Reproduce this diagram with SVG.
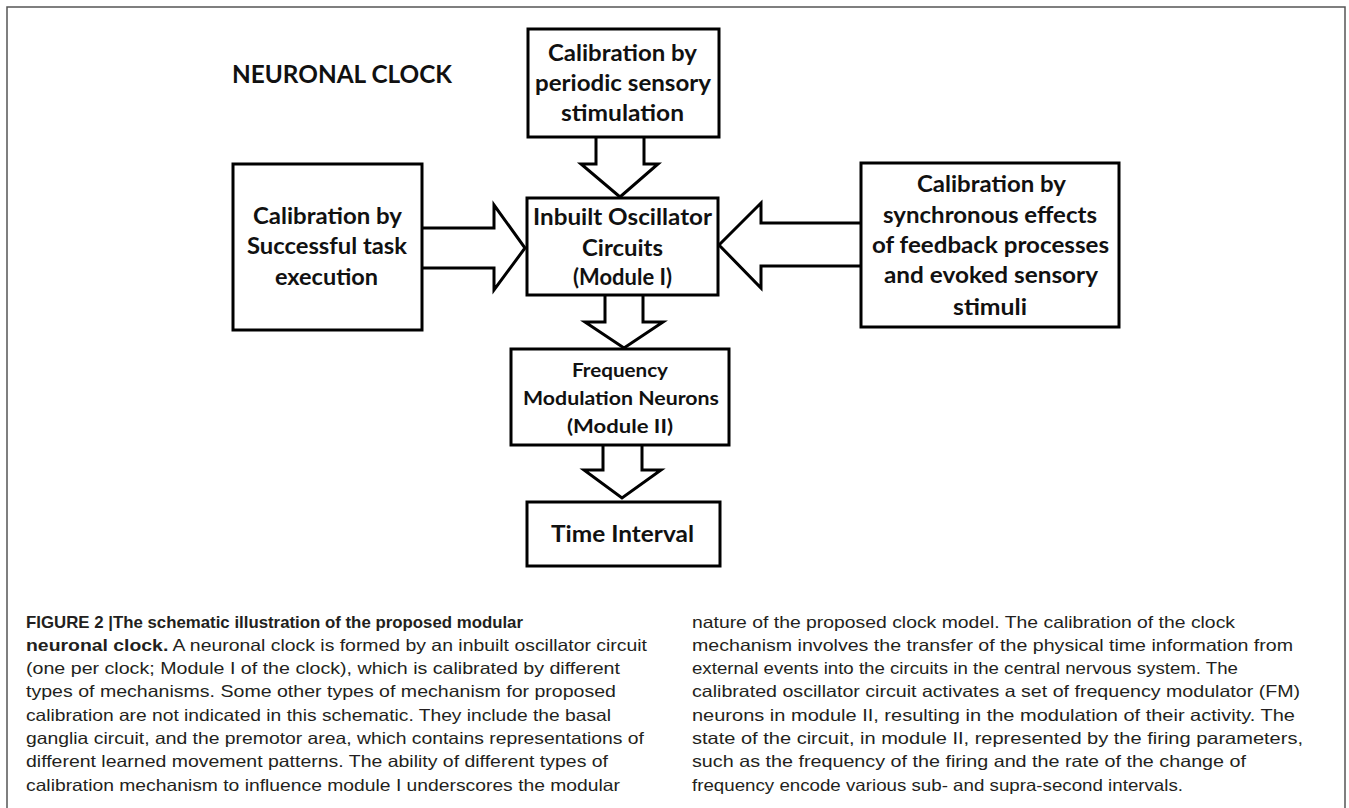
<svg xmlns="http://www.w3.org/2000/svg" width="1349" height="808" viewBox="0 0 1349 808">
<style>
.box{fill:#fff;stroke:#000;stroke-width:3;stroke-linejoin:miter}
.arr{fill:#fff;stroke:#000;stroke-width:3;stroke-linejoin:miter}
.lbl{font-family:Lato,"Open Sans","Liberation Sans",sans-serif;font-weight:700;fill:#111;text-anchor:middle}
.big{font-size:22px}
.mid{font-size:19px}
.cap{font-family:"Liberation Sans",Arial,sans-serif;font-size:16.5px;fill:#231f20}
.b{font-weight:700}
</style>
<rect x="0" y="0" width="1349" height="808" fill="#fff"/>
<rect x="7" y="7" width="1338" height="830" fill="none" stroke="#555" stroke-width="1.5"/>
<text x="232" y="83" font-family="Lato,'Open Sans','Liberation Sans',sans-serif" font-weight="700" font-size="25" fill="#111" textLength="220" lengthAdjust="spacingAndGlyphs">NEURONAL CLOCK</text>

<g id="connectors">
<path class="arr" d="M596,137 V164 H581 L620,197 L658,164 H644 V137"/>
<path class="arr" d="M422,228 H494 V205 L525,248 L494,290 V268 H422"/>
<path class="arr" d="M861,223 H761 V203 L719,245 L761,288 V266 H861"/>
<path class="arr" d="M605,295 V322 H585 L624,348 L663,322 H643 V295"/>
<path class="arr" d="M603,445 V470 H584 L622,498 L661,470 H642 V445"/>
</g>

<g id="node-periodic">
<rect class="box" x="528" y="29" width="191" height="108"/>
<text class="lbl big" x="622.5" y="61" textLength="149" lengthAdjust="spacingAndGlyphs">Calibration by</text>
<text class="lbl big" x="623" y="91" textLength="176" lengthAdjust="spacingAndGlyphs">periodic sensory</text>
<text class="lbl big" x="622.5" y="121" textLength="123" lengthAdjust="spacingAndGlyphs">stimulation</text>
</g>

<g id="node-oscillator">
<rect class="box" x="527" y="198" width="191" height="97"/>
<text class="lbl big" x="622.5" y="225" textLength="179" lengthAdjust="spacingAndGlyphs">Inbuilt Oscillator</text>
<text class="lbl big" x="622.5" y="256" textLength="81" lengthAdjust="spacingAndGlyphs">Circuits</text>
<text class="lbl big" x="622.5" y="285" textLength="99" lengthAdjust="spacingAndGlyphs">(Module I)</text>
</g>

<g id="node-task">
<rect class="box" x="233" y="164" width="189" height="166"/>
<text class="lbl big" x="327.5" y="224" textLength="149" lengthAdjust="spacingAndGlyphs">Calibration by</text>
<text class="lbl big" x="327" y="254" textLength="160" lengthAdjust="spacingAndGlyphs">Successful task</text>
<text class="lbl big" x="326.5" y="285" textLength="103" lengthAdjust="spacingAndGlyphs">execution</text>
</g>

<g id="node-feedback">
<rect class="box" x="861" y="163" width="258" height="164"/>
<text class="lbl big" x="991.5" y="192" textLength="149" lengthAdjust="spacingAndGlyphs">Calibration by</text>
<text class="lbl big" x="990" y="223" textLength="214" lengthAdjust="spacingAndGlyphs">synchronous effects</text>
<text class="lbl big" x="990.5" y="253" textLength="237" lengthAdjust="spacingAndGlyphs">of feedback processes</text>
<text class="lbl big" x="991" y="283" textLength="214" lengthAdjust="spacingAndGlyphs">and evoked sensory</text>
<text class="lbl big" x="990" y="315" textLength="74" lengthAdjust="spacingAndGlyphs">stimuli</text>
</g>

<g id="node-fm">
<rect class="box" x="511" y="349" width="218" height="96"/>
<text class="lbl mid" x="620" y="377" textLength="96" lengthAdjust="spacingAndGlyphs">Frequency</text>
<text class="lbl mid" x="621" y="405" textLength="196" lengthAdjust="spacingAndGlyphs">Modulation  Neurons</text>
<text class="lbl mid" x="620" y="433" textLength="106" lengthAdjust="spacingAndGlyphs">(Module II)</text>
</g>

<g id="node-time">
<rect class="box" x="527" y="502" width="193" height="64"/>
<text class="lbl" font-size="23" x="622.5" y="542" textLength="143" lengthAdjust="spacingAndGlyphs">Time Interval</text>
</g>

<g id="caption">
<text class="cap b" x="26" y="628" textLength="497" lengthAdjust="spacingAndGlyphs">FIGURE 2 |The schematic illustration of the proposed modular</text>
<text class="cap" x="26" y="651" textLength="621" lengthAdjust="spacingAndGlyphs"><tspan class="b">neuronal clock.</tspan> A neuronal clock is formed by an inbuilt oscillator circuit</text>
<text class="cap" x="26" y="674" textLength="594" lengthAdjust="spacingAndGlyphs">(one per clock; Module I of the clock), which is calibrated by different</text>
<text class="cap" x="26" y="697" textLength="590" lengthAdjust="spacingAndGlyphs">types of mechanisms. Some other types of mechanism for proposed</text>
<text class="cap" x="26" y="721" textLength="585" lengthAdjust="spacingAndGlyphs">calibration are not indicated in this schematic. They include the basal</text>
<text class="cap" x="26" y="744" textLength="618" lengthAdjust="spacingAndGlyphs">ganglia circuit, and the premotor area, which contains representations of</text>
<text class="cap" x="26" y="767" textLength="582" lengthAdjust="spacingAndGlyphs">different learned movement patterns. The ability of different types of</text>
<text class="cap" x="26" y="791" textLength="594" lengthAdjust="spacingAndGlyphs">calibration mechanism to influence module I underscores the modular</text>

<text class="cap" x="692" y="628" textLength="543" lengthAdjust="spacingAndGlyphs">nature of the proposed clock model. The calibration of the clock</text>
<text class="cap" x="692" y="651" textLength="601" lengthAdjust="spacingAndGlyphs">mechanism involves the transfer of the physical time information from</text>
<text class="cap" x="692" y="674" textLength="546" lengthAdjust="spacingAndGlyphs">external events into the circuits in the central nervous system. The</text>
<text class="cap" x="692" y="697" textLength="608" lengthAdjust="spacingAndGlyphs">calibrated oscillator circuit activates a set of frequency modulator (FM)</text>
<text class="cap" x="692" y="721" textLength="603" lengthAdjust="spacingAndGlyphs">neurons in module II, resulting in the modulation of their activity. The</text>
<text class="cap" x="692" y="744" textLength="611" lengthAdjust="spacingAndGlyphs">state of the circuit, in module II, represented by the firing parameters,</text>
<text class="cap" x="692" y="767" textLength="554" lengthAdjust="spacingAndGlyphs">such as the frequency of the firing and the rate of the change of</text>
<text class="cap" x="692" y="791" textLength="491" lengthAdjust="spacingAndGlyphs">frequency encode various sub- and supra-second intervals.</text>
</g>
</svg>
